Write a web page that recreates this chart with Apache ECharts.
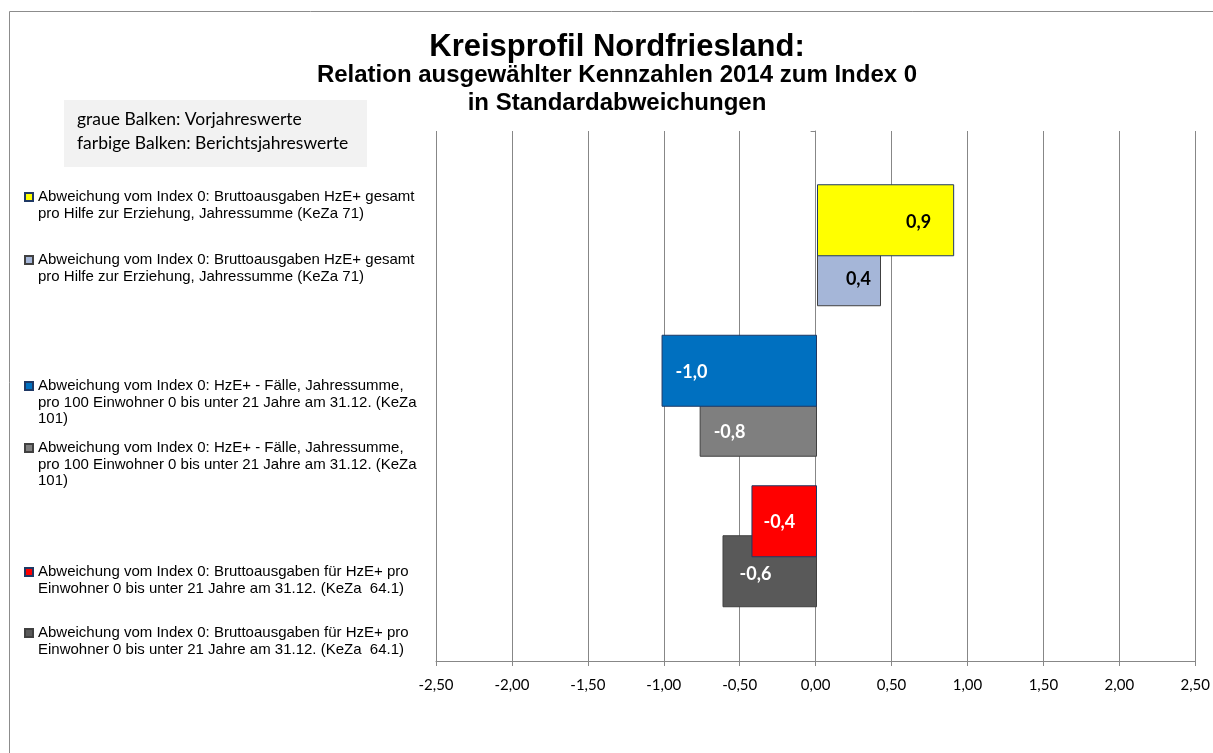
<!DOCTYPE html>
<html>
<head>
<meta charset="utf-8">
<script src="https://cdn.jsdelivr.net/npm/echarts@6/dist/echarts.min.js"></script>
<style>
  html, body { margin: 0; padding: 0; background: #fff; }
  #chart { width: 1213px; height: 753px; }
</style>
</head>
<body>
<div id="chart"></div>
<script>
// Kennzahlen (KeZa) of the Kreisprofil, values in standard deviations from index 0
const groups = ['KeZa 71', 'KeZa 101', 'KeZa 64.1'];
const currentValues = [0.90, -1.02, -0.43];   // Berichtsjahr 2014 (farbige Balken)
const previousValues = [0.42, -0.77, -0.62];  // Vorjahr (graue Balken)
const currentNames = ['KeZa 71 Berichtsjahr', 'KeZa 101 Berichtsjahr', 'KeZa 64.1 Berichtsjahr'];
const previousNames = ['KeZa 71 Vorjahr', 'KeZa 101 Vorjahr', 'KeZa 64.1 Vorjahr'];
const legendTexts = [
  'Abweichung vom Index 0: Bruttoausgaben HzE+ gesamt\npro Hilfe zur Erziehung, Jahressumme (KeZa 71)',
  'Abweichung vom Index 0: HzE+ - Fälle, Jahressumme,\npro 100 Einwohner 0 bis unter 21 Jahre am 31.12. (KeZa\n101)',
  'Abweichung vom Index 0: Bruttoausgaben für HzE+ pro\nEinwohner 0 bis unter 21 Jahre am 31.12. (KeZa  64.1)'
];
const xAxisMin = -2.5, xAxisMax = 2.5, xAxisStep = 0.5;

// styling
const currentColors = ['#ffff00', '#0070c0', '#ff0000'];
const previousColors = ['#a5b6d8', '#7f7f7f', '#595959'];
const currentLabelColors = ['#000', '#fff', '#fff'];
const previousLabelColors = ['#000', '#fff', '#fff'];
const currentLabelInset = [23, 14, 12];
const previousLabelInset = [10, 14, 17];
const currentLabelShift = [2, 1, 1];
const previousLabelShift = [9, 11, 3];
const gridColor = '#878787';

const fmt1 = v => v.toFixed(1).replace('.', ',');
const fmt2 = v => v.toFixed(2).replace('.', ',');

function barSeries(name, stack, i, value, color, border, labelColor, inset, shift, z) {
  return {
    type: 'bar',
    name: name,
    xAxisIndex: 1,
    yAxisIndex: 1,
    stack: stack,
    z: z,
    barWidth: 72,
    barGap: '-30.56%',
    itemStyle: { color: color, borderColor: border, borderWidth: 1 },
    label: {
      show: true,
      position: value >= 0 ? 'insideRight' : 'insideLeft',
      distance: inset,
      offset: [0, shift],
      color: labelColor,
      fontFamily: 'Lato',
      fontWeight: 'bold',
      fontSize: 18,
      formatter: p => fmt1(p.value)
    },
    emphasis: { disabled: true },
    data: groups.map((g, j) => (j === i ? value : null))
  };
}

const series = [];
groups.forEach((g, i) => {
  series.push(barSeries(currentNames[i], 'cur', i, currentValues[i], currentColors[i], '#1f3864',
    currentLabelColors[i], currentLabelInset[i], currentLabelShift[i], 3));
});
groups.forEach((g, i) => {
  series.push(barSeries(previousNames[i], 'prev', i, previousValues[i], previousColors[i], '#404040',
    previousLabelColors[i], previousLabelInset[i], previousLabelShift[i], 2));
});

// legend entries: one component per entry; blank lines above the text keep
// the first text line level with the marker
const legendOrder = [];
groups.forEach((g, i) => {
  legendOrder.push({ name: currentNames[i], text: legendTexts[i] });
  legendOrder.push({ name: previousNames[i], text: legendTexts[i] });
});
const legendCenters = [197, 260, 386, 448, 572, 633];
const lineH = 16.5;
const legends = legendOrder.map((e, k) => {
  const n = e.text.split('\n').length;
  const shown = '\n'.repeat(n - 1) + e.text;
  return {
    data: [e.name],
    left: 24,
    top: legendCenters[k] - (2 * n - 1) * lineH / 2,
    padding: 0,
    orient: 'vertical',
    icon: 'rect',
    itemWidth: 8,
    itemHeight: 8,
    selectedMode: false,
    formatter: () => shown,
    textStyle: {
      fontFamily: 'Liberation Sans',
      fontSize: 15,
      lineHeight: lineH,
      color: '#000'
    }
  };
});

const chart = echarts.init(document.getElementById('chart'), null, { renderer: 'canvas' });
chart.setOption({
  animation: false,
  backgroundColor: '#fff',
  legend: legends,
  grid: [
    { left: 436, right: 15, top: 131, bottom: 92 },
    { left: 436, right: 15, top: 170, height: 451.5 }
  ],
  xAxis: [
    {
      gridIndex: 0,
      type: 'value',
      min: xAxisMin,
      max: xAxisMax,
      interval: xAxisStep,
      axisLine: { show: true, lineStyle: { color: gridColor } },
      axisTick: { show: true, length: 5, lineStyle: { color: gridColor } },
      splitLine: { show: true, lineStyle: { color: gridColor, width: 1 } },
      axisLabel: {
        margin: 17,
        color: '#000',
        fontFamily: 'Lato',
        fontSize: 15,
        formatter: v => fmt2(v)
      }
    },
    {
      gridIndex: 1,
      type: 'value',
      min: xAxisMin,
      max: xAxisMax,
      show: false
    }
  ],
  yAxis: [
    {
      gridIndex: 0,
      type: 'category',
      data: [''],
      axisLine: { show: true, onZero: true, lineStyle: { color: gridColor } },
      axisTick: { show: true, length: 5, lineStyle: { color: gridColor } },
      axisLabel: { show: false },
      splitLine: { show: false }
    },
    {
      gridIndex: 1,
      type: 'category',
      data: groups,
      inverse: true,
      show: false
    }
  ],
  graphic: [
    {
      type: 'rect', silent: true, z: -10,
      shape: { x: 9.5, y: 11.5, width: 1300, height: 800 },
      style: { fill: 'none', stroke: '#8c8c8c', lineWidth: 1 }
    },
    {
      type: 'rect', silent: true,
      shape: { x: 64, y: 100, width: 303, height: 67 },
      style: { fill: '#f2f2f2' }
    },
    {
      type: 'text', silent: true, x: 77, y: 119,
      style: { text: 'graue Balken: Vorjahreswerte', fill: '#000', font: '17.5px Lato', verticalAlign: 'middle' }
    },
    {
      type: 'text', silent: true, x: 77, y: 143,
      style: { text: 'farbige Balken: Berichtsjahreswerte', fill: '#000', font: '17.5px Lato', verticalAlign: 'middle' }
    },
    {
      type: 'text', silent: true, x: 617, y: 47,
      style: { text: 'Kreisprofil Nordfriesland:', fill: '#000', font: 'bold 31px "Liberation Sans"', align: 'center', verticalAlign: 'middle' }
    },
    {
      type: 'text', silent: true, x: 617, y: 75,
      style: { text: 'Relation ausgewählter Kennzahlen 2014 zum Index 0', fill: '#000', font: 'bold 24px "Liberation Sans"', align: 'center', verticalAlign: 'middle' }
    },
    {
      type: 'text', silent: true, x: 617, y: 103,
      style: { text: 'in Standardabweichungen', fill: '#000', font: 'bold 24px "Liberation Sans"', align: 'center', verticalAlign: 'middle' }
    }
  ],
  series: series
});
</script>
</body>
</html>
